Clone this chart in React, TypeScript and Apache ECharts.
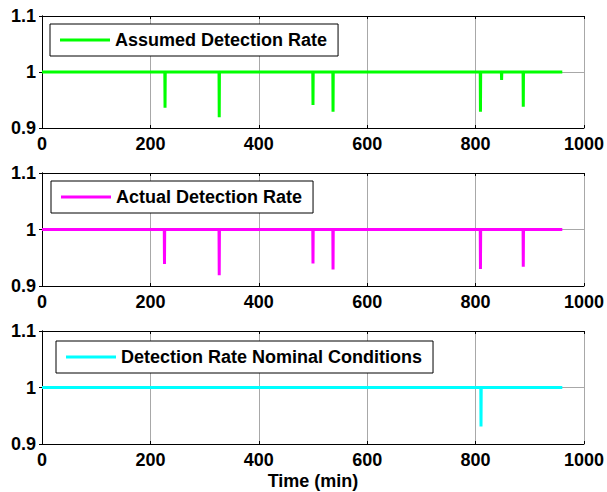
import React, { useEffect, useRef } from "react";
import * as echarts from "echarts";

const seriesNames = [
  "Assumed Detection Rate",
  "Actual Detection Rate",
  "Detection Rate Nominal Conditions",
];
const seriesColors = ["#00ff00", "#ff00ff", "#00ffff"];

const timeStart = 0;
const timeEnd = 960;
const baseRate = 1;

// spike times (min) and minimum values for each panel
const assumedSpikeTimes = [227, 327, 500, 537, 809, 848, 888];
const assumedSpikeValues = [0.936, 0.919, 0.941, 0.929, 0.929, 0.986, 0.938];
const actualSpikeTimes = [226, 327, 500, 537, 809, 888];
const actualSpikeValues = [0.939, 0.919, 0.94, 0.929, 0.93, 0.934];
const nominalSpikeTimes = [810];
const nominalSpikeValues = [0.931];

const xTicks = [0, 200, 400, 600, 800, 1000];
const yTicks = [0.9, 1, 1.1];

const spikeTimes = [assumedSpikeTimes, actualSpikeTimes, nominalSpikeTimes];
const spikeValues = [assumedSpikeValues, actualSpikeValues, nominalSpikeValues];

function buildSeries(times: number[], values: number[]): number[][] {
  const out: number[][] = [[timeStart, baseRate]];
  times.forEach((t, i) => {
    out.push([t - 0.4, baseRate]);
    out.push([t, values[i]]);
    out.push([t + 0.4, baseRate]);
  });
  out.push([timeEnd, baseRate]);
  return out;
}

const FONT = "'Liberation Sans', Arial, sans-serif";

const gridTops = [16, 173, 331];
const gridHeights = [112, 113, 113];
const legendPos = [
  { left: 50, top: 24 },
  { left: 51, top: 181 },
  { left: 56, top: 341 },
];

export default function App() {
  const ref = useRef<HTMLDivElement>(null);
  useEffect(() => {
    if (!ref.current) return;
    const chart = echarts.init(ref.current, undefined, { renderer: "svg" });
    const xMin = xTicks[0];
    const xMax = xTicks[xTicks.length - 1];
    const xInt = xTicks[1] - xTicks[0];
    const yMin = yTicks[0];
    const yMax = yTicks[yTicks.length - 1];

    const grids: any[] = [];
    const xAxes: any[] = [];
    const yAxes: any[] = [];
    const series: any[] = [];
    const legends: any[] = [];

    const tickStyle = { inside: true, length: 3, lineStyle: { color: "#000", width: 1 } };
    const axisLine = { show: true, lineStyle: { color: "#000", width: 1 } };
    const labelStyle = {
      fontSize: 18,
      fontWeight: "bold",
      fontFamily: FONT,
      color: "#000",
    };

    for (let i = 0; i < 3; i++) {
      grids.push({
        left: 42,
        right: 23,
        top: gridTops[i],
        height: gridHeights[i],
        show: true,
        backgroundColor: "#fff",
        borderWidth: 0,
      });
      xAxes.push({
        type: "value",
        gridIndex: i,
        position: "bottom",
        min: xMin,
        max: xMax,
        interval: xInt,
        axisLine,
        axisTick: tickStyle,
        axisLabel: { ...labelStyle, margin: 7, formatter: (v: number) => String(v) },
        splitLine: { show: true, lineStyle: { color: "#a8a8a8", width: 1 } },
        ...(i === 2
          ? {
              name: "Time (min)",
              nameLocation: "middle",
              nameGap: 28,
              nameTextStyle: { ...labelStyle },
            }
          : {}),
      });
      xAxes.push({
        type: "value",
        gridIndex: i,
        position: "top",
        min: xMin,
        max: xMax,
        interval: xInt,
        axisLine,
        axisTick: tickStyle,
        axisLabel: { show: false },
        splitLine: { show: false },
      });
      yAxes.push({
        type: "value",
        gridIndex: i,
        position: "left",
        min: yMin,
        max: yMax,
        interval: 0.1,
        axisLine,
        axisTick: tickStyle,
        axisLabel: {
          ...labelStyle,
          margin: 6,
          formatter: (v: number) => {
            const r = Math.round(v * 10) / 10;
            return r === 1 ? "1" : r.toFixed(1);
          },
        },
        splitLine: { show: true, lineStyle: { color: "#a8a8a8", width: 1 } },
      });
      yAxes.push({
        type: "value",
        gridIndex: i,
        position: "right",
        min: yMin,
        max: yMax,
        interval: 0.1,
        axisLine,
        axisTick: tickStyle,
        axisLabel: { show: false },
        splitLine: { show: false },
      });
      series.push({
        name: seriesNames[i],
        type: "line",
        xAxisIndex: 2 * i,
        yAxisIndex: 2 * i,
        data: buildSeries(spikeTimes[i], spikeValues[i]),
        showSymbol: false,
        symbol: "none",
        color: seriesColors[i],
        lineStyle: { width: 3, color: seriesColors[i] },
        z: 3,
      });
      legends.push({
        data: [seriesNames[i]],
        left: legendPos[i].left,
        top: legendPos[i].top,
        orient: "horizontal",
        icon: "rect",
        itemWidth: 50,
        itemHeight: 3,
        padding: [7, 11, 7, 10],
        borderColor: "#000",
        borderWidth: 1,
        backgroundColor: "#fff",
        selectedMode: false,
        textStyle: { ...labelStyle },
        z: 10,
      });
    }

    chart.setOption({
      animation: false,
      backgroundColor: "#fff",
      grid: grids,
      xAxis: xAxes,
      yAxis: yAxes,
      series,
      legend: legends,
    });
    return () => chart.dispose();
  }, []);
  return (
    <div
      ref={ref}
      style={{ position: "fixed", left: 0, top: 0, width: 607, height: 492, background: "#fff" }}
    />
  );
}
